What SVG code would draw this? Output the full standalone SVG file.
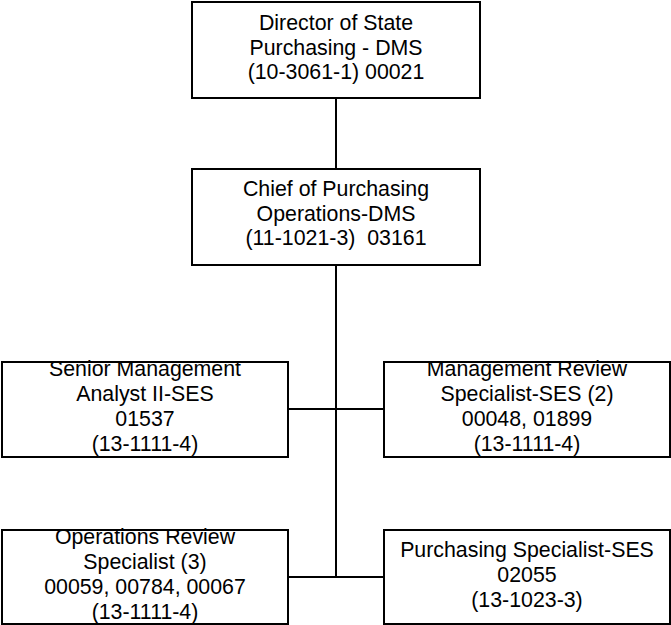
<svg xmlns="http://www.w3.org/2000/svg" width="671" height="625" viewBox="0 0 671 625">
<style>
.box{fill:#fff;stroke:#000;stroke-width:2}
.ln{stroke:#000;stroke-width:2;fill:none}
text{font-family:"Liberation Sans",Arial,sans-serif;font-size:21.33px;fill:#000;text-anchor:middle}
</style>
<rect width="671" height="625" fill="#fff"/>
<g id="connectors">
<line class="ln" x1="336" y1="98" x2="336" y2="169"/>
<line class="ln" x1="336" y1="265" x2="336" y2="577"/>
<line class="ln" x1="288" y1="409" x2="384" y2="409"/>
<line class="ln" x1="288" y1="577" x2="384" y2="577"/>
</g>
<g id="director">
<rect class="box" x="192" y="2" width="288" height="96"/>
<text x="336" y="30">Director of State</text>
<text x="336" y="55">Purchasing - DMS</text>
<text x="336" y="79">(10-3061-1) 00021</text>
</g>
<g id="chief">
<rect class="box" x="192" y="169" width="288" height="96"/>
<text x="336" y="196">Chief of Purchasing</text>
<text x="336" y="220.5">Operations-DMS</text>
<text x="336" y="245" xml:space="preserve">(11-1021-3)  03161</text>
</g>
<g id="senior-analyst">
<rect class="box" x="2" y="362" width="286" height="95"/>
<text x="145" y="376">Senior Management</text>
<text x="145" y="401">Analyst II-SES</text>
<text x="145" y="426">01537</text>
<text x="145" y="451">(13-1111-4)</text>
</g>
<g id="mgmt-review">
<rect class="box" x="384" y="362" width="286" height="95"/>
<text x="527" y="376">Management Review</text>
<text x="527" y="401">Specialist-SES (2)</text>
<text x="527" y="426">00048, 01899</text>
<text x="527" y="451">(13-1111-4)</text>
</g>
<g id="ops-review">
<rect class="box" x="2" y="530" width="286" height="94"/>
<text x="145" y="544">Operations Review</text>
<text x="145" y="569">Specialist (3)</text>
<text x="145" y="594">00059, 00784, 00067</text>
<text x="145" y="619">(13-1111-4)</text>
</g>
<g id="purchasing-specialist">
<rect class="box" x="384" y="530" width="286" height="94"/>
<text x="527" y="557">Purchasing Specialist-SES</text>
<text x="527" y="582">02055</text>
<text x="527" y="607">(13-1023-3)</text>
</g>
</svg>
